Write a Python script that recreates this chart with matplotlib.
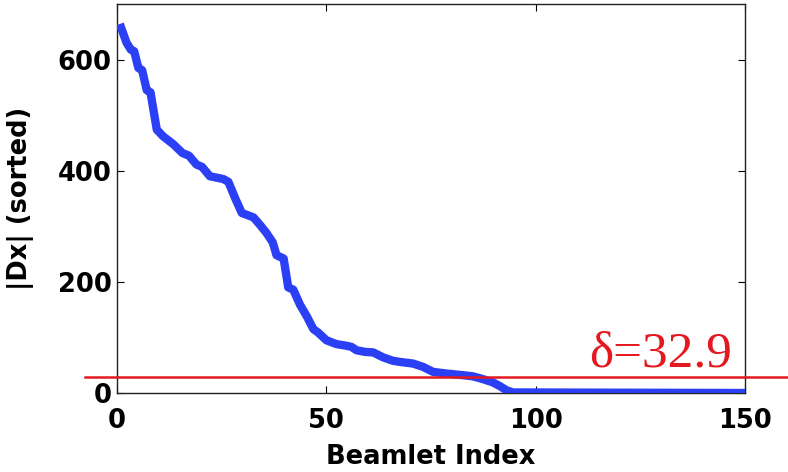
import matplotlib
matplotlib.use("Agg")
import matplotlib.pyplot as plt

# Sorted |Dx| values (beamlet index, value)
beamlet_index = [1, 2.3, 3.3, 4.1, 5.1, 6.0, 7.1, 8.0, 9.5, 11, 13.4, 15.6, 17.2, 19, 20.3,
                 22.2, 25.4, 26.6, 28.2, 29.8, 32.6, 34.1, 35.7, 37.2, 38.1, 39.8, 40.9,
                 42.1, 43.7, 45.4, 46.9, 48.0, 50, 52.4, 54.8, 56, 57.2, 59.2, 61.2, 63.6,
                 65.9, 67.5, 70.7, 73.1, 75.5, 78.7, 82.7, 85, 87.4, 89.8, 91.4, 93, 94.6, 150]
dx_sorted = [657, 630, 618, 615, 585, 581, 545, 541, 474, 462, 448, 432, 427, 411, 407,
             390, 385, 380, 351, 324, 316, 303, 288, 271, 248, 242, 190,
             186, 159, 137, 115, 109, 95, 88, 85, 83, 77, 74, 73, 64,
             58, 56, 53, 47, 38, 35, 32, 30, 25, 19, 12.6, 5, 1, 0]

threshold_y = 29.3
threshold_x = [-7.6, 160]
delta_label = "δ=32.9"

x_ticks = [0, 50, 100, 150]
y_ticks = [0, 200, 400, 600]

fig = plt.figure(figsize=(7.88, 4.72), dpi=100)
ax = fig.add_axes([117/788, 1 - 393/472, (745-117)/788, (393-4)/472])

ax.plot(beamlet_index, dx_sorted, color="#2b40f5", linewidth=6.0, solid_joinstyle="round", zorder=3)
ax.plot(threshold_x, [threshold_y, threshold_y], color="#e3191f", linewidth=1.8, clip_on=False, zorder=4)

ax.text(146.8, 48.5, delta_label, color="#e3191f", fontsize=37, family="Liberation Serif",
        ha="right", va="baseline")

ax.set_xlim(0, 150)
ax.set_ylim(0, 700)
ax.set_xticks(x_ticks)
ax.set_yticks(y_ticks)

for sp in ax.spines.values():
    sp.set_linewidth(1.0)
    sp.set_color("#222222")

ax.tick_params(direction="in", length=5, width=0.8, top=True, right=True,
               labelsize=18.5)
ax.tick_params(axis="x", pad=11)
ax.tick_params(axis="y", pad=4)
for lab in ax.get_xticklabels() + ax.get_yticklabels():
    lab.set_fontfamily("DejaVu Sans")
    lab.set_fontweight("bold")

ax.set_xlabel("Beamlet Index", fontsize=18.5, fontweight="bold", family="DejaVu Sans")
ax.set_ylabel("|Dx| (sorted)", fontsize=18.5, fontweight="bold", family="DejaVu Sans")
ax.xaxis.set_label_coords(0.5, -0.132)
ax.yaxis.set_label_coords(-0.132, 0.5)

fig.savefig("out.png", dpi=100)
